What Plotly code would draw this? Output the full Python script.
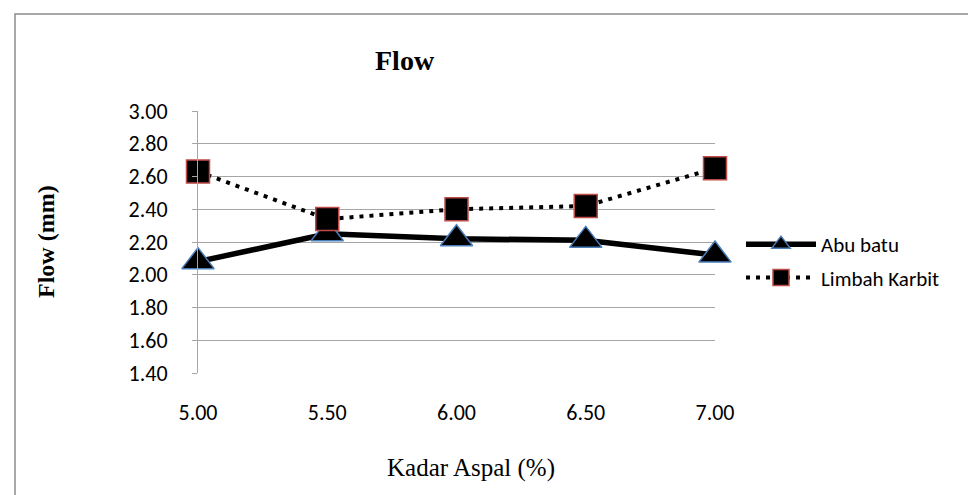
import plotly.graph_objects as go

# Data
kadar_aspal = [5.0, 5.5, 6.0, 6.5, 7.0]
abu_batu = [2.08, 2.25, 2.22, 2.21, 2.12]
limbah_karbit = [2.63, 2.34, 2.40, 2.42, 2.65]
x_ticks = [5.0, 5.5, 6.0, 6.5, 7.0]

W, H = 976, 495
L, R, T, B = 190, 269, 103, 130
pw, ph = W - L - R, H - T - B


def px(x):
    return (x - L) / pw


def py(y):
    return (H - B - y) / ph


serif = 'Liberation Serif, Times New Roman, serif'

fig = go.Figure()

fig.add_trace(go.Scatter(
    x=kadar_aspal,
    y=abu_batu,
    name='Abu batu',
    legendgroup='a',
    mode='lines+markers',
    line=dict(color='black', width=5.5),
    marker=dict(symbol='triangle-up', size=28, color='black',
                line=dict(color='#4a7ebb', width=1.5)),
    cliponaxis=False
))

fig.add_trace(go.Scatter(
    x=kadar_aspal,
    y=limbah_karbit,
    name='Limbah Karbit',
    legendgroup='b',
    mode='lines+markers',
    line=dict(color='black', width=4, dash='4px,6px'),
    marker=dict(symbol='square', size=23, color='black',
                line=dict(color='#be4b48', width=1.5)),
    cliponaxis=False
))

fig.update_layout(
    width=W,
    height=H,
    margin=dict(l=L, r=R, t=T, b=B, autoexpand=False),
    plot_bgcolor='white',
    paper_bgcolor='white',
    font=dict(family='Carlito, Calibri, Lato, sans-serif', size=22, color='black'),
    showlegend=True,
    legend=dict(
        x=px(733), y=py(216), xanchor='left', yanchor='top',
        font=dict(size=21), tracegroupgap=3, itemwidth=70,
        traceorder='grouped'
    ),
    annotations=[
        dict(text='<b>Flow</b>', x=px(397), y=py(52), xref='paper', yref='paper',
             xanchor='center', yanchor='middle',
             showarrow=False, font=dict(family=serif, size=28)),
        dict(text='<b>Flow (mm)</b>', x=px(38), y=py(234), xref='paper', yref='paper',
             xanchor='center', yanchor='middle',
             showarrow=False, textangle=-90, font=dict(family=serif, size=24)),
        dict(text='Kadar Aspal (%)', x=px(463), y=py(460), xref='paper', yref='paper',
             xanchor='center', yanchor='middle',
             showarrow=False, font=dict(family=serif, size=25)),
    ],
    shapes=[
        dict(type='rect', xref='paper', yref='paper',
             x0=px(7), x1=px(990), y0=py(510), y1=py(6),
             line=dict(color='#8c8c8c', width=1.5), fillcolor='rgba(0,0,0,0)', layer='below')
    ]
)

fig.update_xaxes(
    range=[5.0, 7.0],
    tickvals=x_ticks,
    tickformat='.2f',
    showgrid=False,
    zeroline=False,
    showline=False,
    ticks='',
    ticklabelstandoff=24
)

fig.update_yaxes(
    range=[1.4, 3.0],
    dtick=0.2,
    tick0=1.4,
    tickformat='.2f',
    showgrid=True,
    gridcolor='#a6a6a6',
    gridwidth=1,
    zeroline=False,
    showline=True,
    linecolor='#a6a6a6',
    ticks='outside',
    ticklen=5,
    tickcolor='#a6a6a6',
    ticklabelstandoff=20
)

fig.write_html('out.html')
